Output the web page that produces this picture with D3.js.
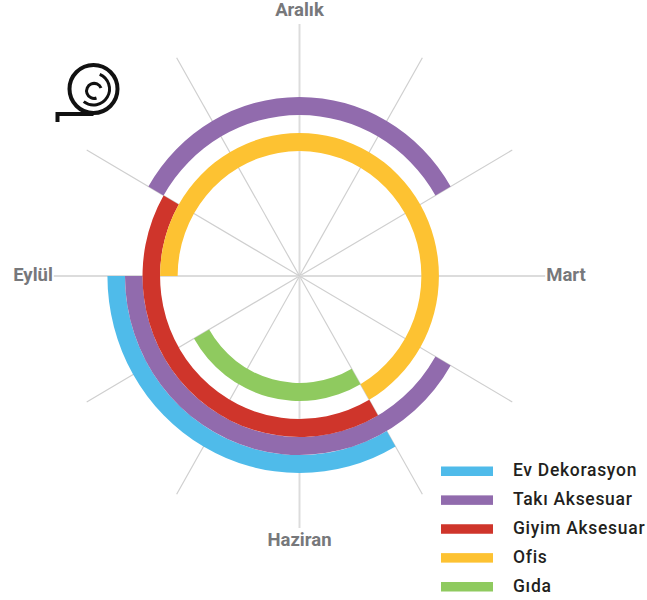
<!DOCTYPE html>
<html>
<head>
<meta charset="utf-8">
<script src="https://cdn.jsdelivr.net/npm/d3@7"></script>
<style>
  html, body { margin: 0; padding: 0; background: #fff; }
  svg { display: block; }
  text { font-family: "Roboto", sans-serif; }
</style>
</head>
<body>
<script>
let months = ["Aralık", "Ocak", "Şubat", "Mart", "Nisan", "Mayıs", "Haziran", "Temmuz", "Ağustos", "Eylül", "Ekim", "Kasım"]
let monthLabels = ["Aralık", "Mart", "Haziran", "Eylül"]

let seriesNames = ["Ev Dekorasyon", "Takı Aksesuar", "Giyim Aksesuar", "Ofis", "Gıda"]
let seriesColors = ["#4fbbea", "#916bad", "#cf352b", "#fdc232", "#8fca5f"]

// [first month, last month] of each season, clockwise
let evDekorasyon = [["Mayıs", "Eylül"]]
let takiAksesuar = [["Nisan", "Eylül"], ["Ekim", "Şubat"]]
let giyimAksesuar = [["Mayıs", "Ekim"]]
let ofis = [["Eylül", "Mayıs"]]
let gida = [["Mayıs", "Ağustos"]]
let seasons = [evDekorasyon, takiAksesuar, giyimAksesuar, ofis, gida]

let width = 647, height = 600
let cx = 299.5, cy = 276
let spokeLength = 252

let angle = d3.scaleLinear().domain([0, months.length]).range([0, 2 * Math.PI])
let ring = d3.scaleBand().domain(seriesNames.slice().reverse()).range([107, 197])
let legendY = d3.scalePoint().domain(seriesNames).range([471, 586.5])

let monthIndex = d => months.indexOf(d)

let svg = d3.select("body").append("svg").attr("width", width).attr("height", height)

// the original is a little narrower than it is tall
let plot = svg.append("g").attr("transform", `translate(${cx},${cy}) scale(0.975,1)`)

plot.selectAll("line.spoke")
  .data(months)
  .enter().append("line")
  .attr("class", "spoke")
  .attr("x1", 0)
  .attr("y1", 0)
  .attr("x2", d => spokeLength * Math.sin(angle(monthIndex(d))))
  .attr("y2", d => -spokeLength * Math.cos(angle(monthIndex(d))))
  .attr("stroke", d => monthLabels.includes(d) ? "#dcdcdc" : "#cfcfcf")
  .attr("stroke-width", d => monthLabels.includes(d) ? 2 : 1.2)

let arc = d3.arc()

seriesNames.forEach((name, i) => {
  plot.append("g").selectAll("path")
    .data(seasons[i])
    .enter().append("path")
    .attr("fill", seriesColors[i])
    .attr("d", d => {
      let start = monthIndex(d[0])
      let end = monthIndex(d[1])
      if (end < start) end += months.length
      return arc({
        innerRadius: ring(name),
        outerRadius: ring(name) + ring.bandwidth(),
        startAngle: angle(start),
        endAngle: angle(end)
      })
    })
})

svg.selectAll("text.month")
  .data(monthLabels)
  .enter().append("text")
  .attr("class", "month")
  .attr("x", d => {
    let a = angle(monthIndex(d))
    return cx + 0.975 * spokeLength * Math.sin(a) + Math.sin(a) * 1
  })
  .attr("y", d => cy - 1 - (spokeLength + 13) * Math.cos(angle(monthIndex(d))))
  .attr("dy", "0.35em")
  .attr("text-anchor", d => d == "Mart" ? "start" : d == "Eylül" ? "end" : "middle")
  .attr("fill", "#77787b")
  .attr("font-size", 18.5)
  .attr("font-weight", "bold")
  .text(d => d)

let legend = svg.selectAll("g.legend")
  .data(seriesNames)
  .enter().append("g")
  .attr("class", "legend")
  .attr("transform", d => `translate(441,${legendY(d)})`)

legend.append("rect")
  .attr("y", -4.5)
  .attr("width", 52)
  .attr("height", 9.5)
  .attr("fill", (d, i) => seriesColors[i])

legend.append("text")
  .attr("x", 72)
  .attr("y", -1)
  .attr("dy", "0.35em")
  .attr("fill", "#231f20")
  .attr("font-size", 17.5)
  .attr("font-weight", 500)
  .attr("letter-spacing", 0.7)
  .text(d => d)

// roll icon
let icon = svg.append("g")
  .attr("transform", "translate(93.5,89)")
  .attr("fill", "none")
  .attr("stroke", "#111")
  .attr("stroke-width", 4)

icon.append("circle").attr("r", 24)
icon.append("path").attr("d", "M-36,33V25H0")
icon.append("path").attr("stroke-width", 3)
  .attr("d", d3.arc()({innerRadius: 16, outerRadius: 16, startAngle: 0.4, endAngle: 3.8}))
icon.append("path").attr("stroke-width", 3).attr("d", "M7.5,-1A7.5,7.5 0 1 0 3,9")
</script>
</body>
</html>
